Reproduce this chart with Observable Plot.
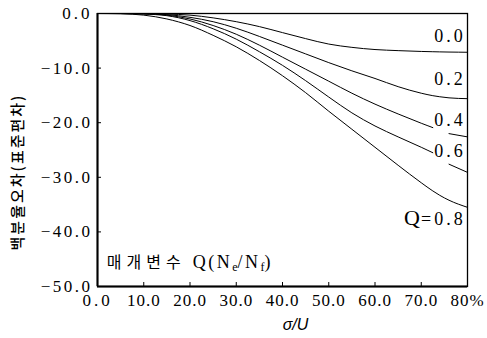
<!DOCTYPE html>
<html><head><meta charset="utf-8">
<script src="https://cdn.jsdelivr.net/npm/d3@7"></script>
<script src="https://cdn.jsdelivr.net/npm/@observablehq/plot@0.6"></script>
<style>
html,body{margin:0;padding:0;background:#fff;}
#chart svg{overflow:visible;display:block}
</style></head><body><div id="chart"></div>
<script>
// ---- data ----
const xs   = [0, 5, 10, 15, 20, 25, 30, 35, 40, 45, 50, 55, 60, 65, 70, 72.5, 74, 76, 80];
const q00  = [0, 0, 0, -0.1, -0.3, -0.8, -1.5, -2.4, -3.5, -4.6, -5.6, -6.2, -6.6, -6.8, -6.95, -7.0, -7.03, -7.06, -7.1];
const q02  = [0, 0, -0.05, -0.2, -0.7, -1.5, -2.7, -4.2, -5.8, -7.4, -9.0, -10.5, -11.9, -13.4, -14.6, -15.05, -15.25, -15.45, -15.6];
const q04  = [0, 0, -0.05, -0.3, -1.0, -2.2, -3.8, -5.8, -8.0, -10.2, -12.4, -14.6, -16.6, -18.4, -20.1, -20.9, null, -22.0, -22.6];
const q06  = [0, 0, -0.1, -0.4, -1.3, -2.8, -4.7, -7.0, -9.5, -12.3, -15.3, -18.2, -20.6, -22.6, -24.5, -25.5, null, -27.6, -29.1];
const q08  = [0, -0.05, -0.3, -1.0, -2.2, -4.0, -6.1, -8.6, -11.4, -14.5, -17.9, -21.2, -24.5, -27.8, -31.0, -32.5, -33.3, -34.2, -35.5];
const seriesNames  = ["0.0", "0.2", "0.4", "0.6", "0.8"];
const seriesValues = [q00, q02, q04, q06, q08];

const xTicks      = [0, 10, 20, 30, 40, 50, 60, 70, 80];
const xTickLabels = ["0.0", "10.0", "20.0", "30.0", "40.0", "50.0", "60.0", "70.0", "80%"];
const yTicks      = [0, -10, -20, -30, -40, -50];
const yTickLabels = ["0.0", "−10.0", "−20.0", "−30.0", "−40.0", "−50.0"];

const curveLabels  = ["0.0", "0.2", "0.4", "0.6", "Q=0.8"];
const curveLabelX  = [79.6, 79.6, 79.6, 79.6, 79.6];
const curveLabelY  = [-4.2, -12.0, -19.6, -25.3, -37.6];

const yTitle = "백분율오차(표준편차)";
const xTitle = "σ/U";
const insetText = "매개변수 Q(Ne/Nf)";
const insetX = 2;
const insetY = -45.6;

// ---- tables built from the arrays ----
const rows = seriesNames.flatMap((q, i) => xs.map((x, j) => ({q, x, y: seriesValues[i][j]})));
const labelRows = curveLabels.map((t, i) => ({t, x: curveLabelX[i], y: curveLabelY[i]}));
const insetRows = [{t: insetText, x: insetX, y: insetY}];

const SERIF = "'Liberation Serif', 'Times New Roman', serif";
const KR = "'Noto Sans CJK KR', sans-serif";

const chart = Plot.plot({
  width: 487,
  height: 338,
  marginLeft: 97,
  marginRight: 20,
  marginTop: 13,
  marginBottom: 52,
  style: {fontFamily: SERIF, fontSize: "16px", color: "black", background: "white"},
  x: {domain: [0, 80], axis: null},
  y: {domain: [-50, 0], axis: null},
  marks: [
    Plot.frame({stroke: "black", strokeWidth: 1.3}),
    Plot.ruleX([0], {stroke: "black", strokeWidth: 2}),
    Plot.ruleY([-50], {stroke: "black", strokeWidth: 2}),
    Plot.axisY(yTicks, {anchor: "left", tickSize: -4, tickPadding: 9, label: null,
      tickFormat: d => yTickLabels[yTicks.indexOf(d)], fontSize: 17, fontFamily: SERIF}),
    Plot.axisX(xTicks, {anchor: "bottom", tickSize: -4, tickPadding: 11, label: null,
      tickFormat: d => xTickLabels[xTicks.indexOf(d)], fontSize: 17, fontFamily: SERIF}),
    Plot.line(rows, {x: "x", y: "y", z: "q", stroke: "black", strokeWidth: 1, curve: "monotone-x"}),
    Plot.text(labelRows, {x: "x", y: "y", text: "t", textAnchor: "end", fontSize: 18, fontFamily: SERIF}),
    Plot.text(insetRows, {x: "x", y: "y", text: "t", textAnchor: "start", fontSize: 18, fontFamily: SERIF}),
    Plot.text([yTitle], {frameAnchor: "left", textAnchor: "middle", rotate: -90, dx: -79, dy: 22,
      fontFamily: KR, fontSize: 15, fontWeight: 500}),
    Plot.text([xTitle], {frameAnchor: "bottom", textAnchor: "middle", dx: 13, dy: 43,
      fontFamily: "'Liberation Sans', sans-serif", fontStyle: "italic", fontSize: 16})
  ]
});
document.getElementById("chart").appendChild(chart);

// ---- typographic touches ----
const svg = d3.select(chart);
svg.selectAll('g[aria-label="y-axis tick label"] text').attr("letter-spacing", "2.5px");
svg.selectAll('g[aria-label="x-axis tick label"] text').attr("letter-spacing", "1px");
svg.selectAll("text").each(function() {
  const el = d3.select(this);
  const t = this.textContent;
  if (curveLabels.includes(t)) {
    el.attr("letter-spacing", "3px");
    if (t.startsWith("Q=")) {
      el.text(null);
      el.append("tspan").attr("font-size", 22).attr("letter-spacing", "1px").text("Q");
      el.append("tspan").text(t.slice(1));
    }
  } else if (t === yTitle) {
    el.attr("letter-spacing", "2px");
  } else if (t === insetText) {
    el.text(null);
    el.append("tspan").attr("font-family", KR).attr("font-size", 16)
      .attr("letter-spacing", "5px").text("매개변수");
    el.append("tspan").attr("letter-spacing", "2.5px").text(" Q(N");
    el.append("tspan").attr("font-size", 12).attr("dy", 3).text("e");
    el.append("tspan").attr("dy", -3).attr("letter-spacing", "2.5px").text("/N");
    el.append("tspan").attr("font-size", 12).attr("dy", 3).text("f");
    el.append("tspan").attr("dy", -3).text(")");
  }
});
</script>
</body></html>
